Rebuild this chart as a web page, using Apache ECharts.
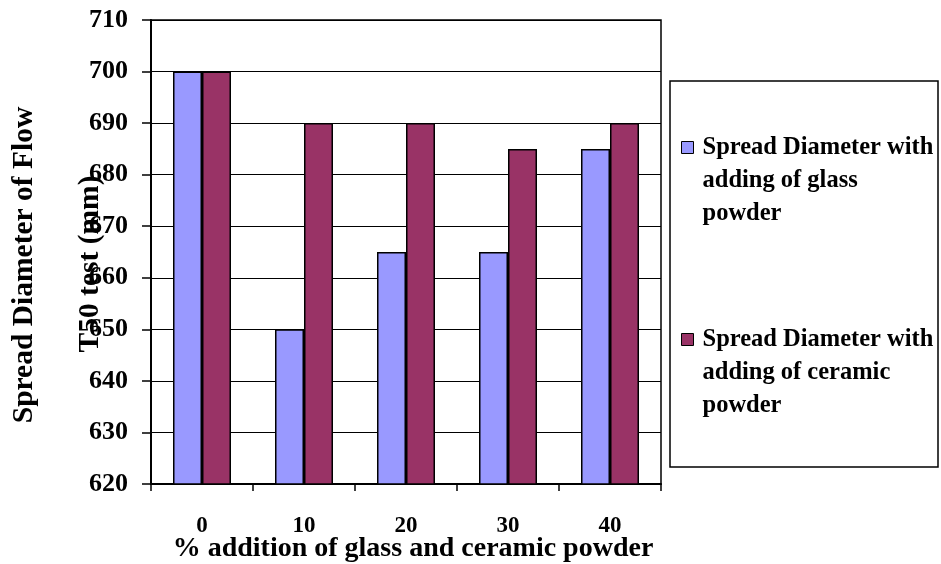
<!DOCTYPE html>
<html>
<head>
<meta charset="utf-8">
<script src="https://cdn.jsdelivr.net/npm/echarts@6/dist/echarts.min.js"></script>
<style>
  html, body { margin: 0; padding: 0; background: #fff; }
  #chart { width: 941px; height: 564px; }
</style>
</head>
<body>
<div id="chart"></div>
<script>
// Percent of powder added (category axis)
const categories = ['0', '10', '20', '30', '40'];
// Spread diameter (mm) for each mix
const glassValues = [700, 650, 665, 665, 685];
const ceramicValues = [700, 690, 690, 685, 690];
// Series names and the way they wrap in the legend
const seriesNames = [
  'Spread Diameter with adding of glass powder',
  'Spread Diameter with adding of ceramic powder'
];
const legendLines = {
  'Spread Diameter with adding of glass powder': ['Spread Diameter with', 'adding of glass', 'powder'],
  'Spread Diameter with adding of ceramic powder': ['Spread Diameter with', 'adding of ceramic', 'powder']
};
// Value axis range and step
const yMin = 620, yMax = 710, yStep = 10;

const FONT = '"Liberation Serif", "Times New Roman", serif';
const chart = echarts.init(document.getElementById('chart'), null, { renderer: 'canvas' });

chart.setOption({
  animation: false,
  backgroundColor: '#ffffff',
  grid: {
    left: 151, right: 280, top: 20, bottom: 80,
    outerBoundsMode: 'none',
    containLabel: false,
    show: true, borderColor: '#000', borderWidth: 1.5, backgroundColor: 'transparent'
  },
  legend: {
    orient: 'vertical',
    left: 681,
    top: 65,
    padding: 0,
    itemGap: 27,
    itemWidth: 12,
    itemHeight: 12,
    icon: 'rect',
    itemStyle: { borderColor: '#000', borderWidth: 1 },
    // two blank lines on top keep the swatch level with the first text line
    formatter: name => [' ', ' '].concat(legendLines[name]).join('\n'),
    textStyle: {
      fontFamily: FONT, fontWeight: 'bold', fontSize: 24.5, color: '#000',
      lineHeight: 33, padding: [0, 0, 0, 4]
    },
    data: seriesNames
  },
  xAxis: {
    type: 'category',
    data: categories,
    axisLine: { lineStyle: { color: '#000', width: 2 } },
    axisTick: { show: true, length: 7, lineStyle: { color: '#000', width: 1.5 } },
    axisLabel: { fontFamily: FONT, fontWeight: 'bold', fontSize: 23, color: '#000', margin: 31 },
    name: '% addition of glass and ceramic powder',
    nameLocation: 'middle',
    nameGap: 51,
    nameMoveOverlap: false,
    nameTextStyle: { fontFamily: FONT, fontWeight: 'bold', fontSize: 28, color: '#000', padding: [0, 0, 0, 14] }
  },
  yAxis: {
    type: 'value',
    min: yMin, max: yMax, interval: yStep,
    axisLine: { show: true, lineStyle: { color: '#000', width: 2 } },
    axisTick: { show: true, length: 9, lineStyle: { color: '#000', width: 1.5 } },
    splitLine: { show: true, lineStyle: { color: '#000', width: 1 } },
    axisLabel: { fontFamily: FONT, fontWeight: 'bold', fontSize: 26, color: '#000', margin: 23 }
  },
  graphic: [
    {
      type: 'rect',
      shape: { x: 670, y: 81, width: 268, height: 386 },
      style: { fill: 'transparent', stroke: '#000', lineWidth: 1.5 },
      z: 0
    },
    {
      type: 'text',
      x: 24, y: 265, rotation: Math.PI / 2,
      style: {
        text: 'Spread Diameter of Flow', fill: '#000',
        font: 'bold 29.5px ' + FONT, textAlign: 'center', textVerticalAlign: 'middle'
      }
    },
    {
      type: 'text',
      x: 90, y: 264, rotation: Math.PI / 2,
      style: {
        text: 'T50 test (mm)', fill: '#000',
        font: 'bold 29.5px ' + FONT, textAlign: 'center', textVerticalAlign: 'middle'
      }
    }
  ],
  series: [
    {
      name: seriesNames[0],
      type: 'bar',
      data: glassValues,
      barWidth: 29,
      barGap: '0%',
      itemStyle: { color: '#9999FF', borderColor: '#000', borderWidth: 1.5 }
    },
    {
      name: seriesNames[1],
      type: 'bar',
      data: ceramicValues,
      barWidth: 29,
      barGap: '0%',
      itemStyle: { color: '#993366', borderColor: '#000', borderWidth: 1.5 }
    }
  ]
});
</script>
</body>
</html>
